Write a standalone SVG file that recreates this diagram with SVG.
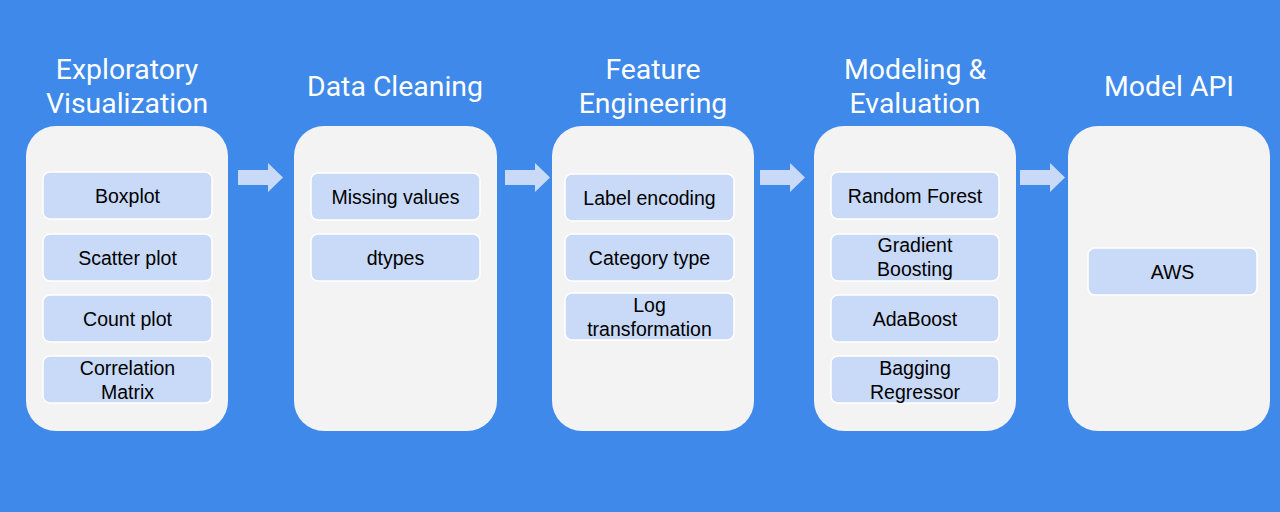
<svg xmlns="http://www.w3.org/2000/svg" width="1280" height="512" viewBox="0 0 1280 512">
<style>
.title{font-family:Roboto,"Liberation Sans",sans-serif;font-size:28.4px;fill:#ffffff;text-anchor:middle}
.panel{fill:#f3f3f3}
.item{fill:#c9daf8;stroke:#ffffff;stroke-width:1.5}
.lbl{font-family:"Liberation Sans",Arial,sans-serif;font-size:19.5px;fill:#000000;text-anchor:middle}
.arrow{fill:#c9daf8}
</style>
<rect width="1280" height="512" fill="#3e89ea"/>
<g id="stage1">
<text class="title" x="127" y="79">Exploratory</text>
<text class="title" x="127" y="113">Visualization</text>
<rect class="panel" x="26" y="126" width="202" height="305" rx="30"/>
<rect class="item" x="43" y="172" width="169" height="47" rx="7"/>
<text class="lbl" x="127.5" y="202.5">Boxplot</text>
<rect class="item" x="43" y="234" width="169" height="47" rx="7"/>
<text class="lbl" x="127.5" y="264.5">Scatter plot</text>
<rect class="item" x="43" y="295" width="169" height="47" rx="7"/>
<text class="lbl" x="127.5" y="325.5">Count plot</text>
<rect class="item" x="43" y="356" width="169" height="47" rx="7"/>
<text class="lbl" x="127.5" y="375">Correlation</text>
<text class="lbl" x="127.5" y="399">Matrix</text>
</g>
<g id="stage2">
<text class="title" x="395" y="96">Data Cleaning</text>
<rect class="panel" x="294" y="126" width="203" height="305" rx="30"/>
<rect class="item" x="311" y="173" width="169" height="47" rx="7"/>
<text class="lbl" x="395.5" y="203.5">Missing values</text>
<rect class="item" x="311" y="234" width="169" height="47" rx="7"/>
<text class="lbl" x="395.5" y="264.5">dtypes</text>
</g>
<g id="stage3">
<text class="title" x="653" y="79">Feature</text>
<text class="title" x="653" y="113">Engineering</text>
<rect class="panel" x="552" y="126" width="202" height="305" rx="30"/>
<rect class="item" x="565" y="174" width="169" height="47" rx="7"/>
<text class="lbl" x="649.5" y="204.5">Label encoding</text>
<rect class="item" x="565" y="234" width="169" height="47" rx="7"/>
<text class="lbl" x="649.5" y="264.5">Category type</text>
<rect class="item" x="565" y="293" width="169" height="47" rx="7"/>
<text class="lbl" x="649.5" y="312">Log</text>
<text class="lbl" x="649.5" y="336">transformation</text>
</g>
<g id="stage4">
<text class="title" x="915" y="79">Modeling &amp;</text>
<text class="title" x="915" y="113">Evaluation</text>
<rect class="panel" x="814" y="126" width="202" height="305" rx="30"/>
<rect class="item" x="831" y="172" width="168" height="47" rx="7"/>
<text class="lbl" x="915" y="202.5">Random Forest</text>
<rect class="item" x="831" y="234" width="168" height="47" rx="7"/>
<text class="lbl" x="915" y="252">Gradient</text>
<text class="lbl" x="915" y="276">Boosting</text>
<rect class="item" x="831" y="295" width="168" height="47" rx="7"/>
<text class="lbl" x="915" y="325.5">AdaBoost</text>
<rect class="item" x="831" y="356" width="168" height="47" rx="7"/>
<text class="lbl" x="915" y="375">Bagging</text>
<text class="lbl" x="915" y="399">Regressor</text>
</g>
<g id="stage5">
<text class="title" x="1169" y="96">Model API</text>
<rect class="panel" x="1068" y="126" width="202" height="305" rx="30"/>
<rect class="item" x="1088" y="248" width="169" height="47" rx="7"/>
<text class="lbl" x="1172.5" y="278.5">AWS</text>
</g>
<g id="connectors">
<polygon class="arrow" points="238,170 268,170 268,163 283,177.5 268,192 268,185 238,185"/>
<polygon class="arrow" points="505,170 535,170 535,163 550,177.5 535,192 535,185 505,185"/>
<polygon class="arrow" points="760,170 790,170 790,163 805,177.5 790,192 790,185 760,185"/>
<polygon class="arrow" points="1020,170 1050,170 1050,163 1065,177.5 1050,192 1050,185 1020,185"/>
</g>
</svg>
